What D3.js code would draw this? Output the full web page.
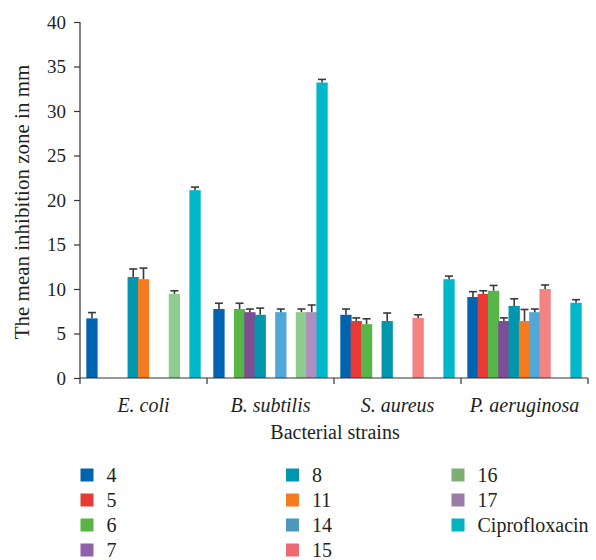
<!DOCTYPE html>
<html>
<head>
<meta charset="utf-8">
<script src="https://cdn.jsdelivr.net/npm/d3@7"></script>
<style>
  body { margin: 0; background: #fff; }
</style>
</head>
<body>
<svg id="svg1" width="596" height="560"></svg>
<script>
const strains = ["E. coli", "B. subtilis", "S. aureus", "P. aeruginosa"];
const compounds = ["4", "5", "6", "7", "8", "11", "14", "15", "16", "17", "Ciprofloxacin"];
const yTicks = [0, 5, 10, 15, 20, 25, 30, 35, 40];

// mean zone per compound, one entry per strain (null = not active)
const means = {
  "4":  [6.7, 7.75, 7.1, 9.1],
  "5":  [null, null, 6.4, 9.45],
  "6":  [null, 7.75, 6.05, 9.8],
  "7":  [null, 7.4, null, 6.4],
  "8":  [11.35, 7.1, 6.4, 8.1],
  "11": [11.1, null, null, 6.4],
  "14": [null, 7.4, null, 7.4],
  "15": [null, null, 6.75, 10.0],
  "16": [9.45, 7.4, null, null],
  "17": [null, 7.4, null, null],
  "Ciprofloxacin": [21.1, 33.2, 11.1, 8.45]
};
const errs = {
  "4":  [0.65, 0.65, 0.65, 0.6],
  "5":  [null, null, 0.35, 0.35],
  "6":  [null, 0.65, 0.6, 0.6],
  "7":  [null, 0.35, null, 0.35],
  "8":  [0.9, 0.75, 0.9, 0.8],
  "11": [1.25, null, null, 1.3],
  "14": [null, 0.35, null, 0.35],
  "15": [null, null, 0.35, 0.45],
  "16": [0.35, 0.35, null, null],
  "17": [null, 0.8, null, null],
  "Ciprofloxacin": [0.35, 0.35, 0.35, 0.35]
};

const barColors = ["#0064b0", "#e93a35", "#58b547", "#7e4e94", "#0096ae", "#f47b20",
                   "#4fa8d8", "#f38380", "#8fcc8f", "#ae8ec0", "#00b8c9"];
const legendColors = ["#0063ad", "#e63a36", "#58b446", "#8f62a8", "#0096ae", "#f47c20",
                      "#4c98bd", "#ea6c72", "#7eae72", "#9b7ca6", "#00b3bf"];

const FONT = 'Liberation Serif';
const INK = '#231f20';

// every text gets its own font settings
function serif(sel, size) {
  return sel.attr('font-family', FONT).style('font-family', FONT)
    .attr('font-size', size).style('font-size', size + 'px').attr('fill', INK);
}

const svg = d3.select('#svg1');
const mLeft = 80, mRight = 588, mTop = 22, mBottom = 378;

const x0 = d3.scaleBand().domain(strains).range([mLeft, mRight]);
const x1 = d3.scaleBand().domain(compounds).range([0, x0.bandwidth()]).paddingOuter(0.66);
const y = d3.scaleLinear().domain([0, 40]).range([mBottom, mTop]);

const rows = [];
strains.forEach((s, i) => {
  compounds.forEach((c, j) => {
    if (means[c][i] != null) rows.push({strain: s, comp: c, idx: j, v: means[c][i], e: errs[c][i]});
  });
});

const bw = x1.step() + 1;

// bars
svg.append('g').selectAll('rect')
  .data(rows)
  .enter()
  .append('rect')
  .attr('x', d => x0(d.strain) + x1(d.comp) - 0.5)
  .attr('y', d => y(d.v))
  .attr('width', bw)
  .attr('height', d => y(0) - y(d.v))
  .attr('fill', d => barColors[d.idx]);

// error bars
const eb = svg.append('g').attr('stroke', '#3a3a3a').attr('stroke-width', 1.6);
rows.forEach(d => {
  const cx = x0(d.strain) + x1(d.comp) - 0.5 + bw / 2;
  eb.append('line').attr('x1', cx).attr('x2', cx).attr('y1', y(d.v)).attr('y2', y(d.v + d.e));
  eb.append('line').attr('x1', cx - 4).attr('x2', cx + 4).attr('y1', y(d.v + d.e)).attr('y2', y(d.v + d.e));
});

// y axis
const yAxis = d3.axisLeft(y).tickValues(yTicks).tickSize(6).tickPadding(8);
const gy = svg.append('g').attr('transform', `translate(${mLeft},0)`).call(yAxis);
gy.attr('font-family', FONT).attr('font-size', 19);
gy.select('.domain').attr('stroke', '#333').attr('stroke-width', 1.2).attr('d', `M0,${mTop}V${mBottom}`);
gy.selectAll('.tick line').attr('stroke', '#333').attr('stroke-width', 1.2);
serif(gy.selectAll('.tick text'), 19);

// x axis
const gx = svg.append('g').attr('transform', `translate(0,${mBottom})`);
gx.append('line').attr('x1', mLeft).attr('x2', mRight).attr('stroke', '#333').attr('stroke-width', 1.2);
const bounds = strains.map(s => x0(s)).concat([mRight]);
gx.selectAll('.tk').data(bounds).enter().append('line')
  .attr('x1', d => d).attr('x2', d => d).attr('y1', 0).attr('y2', 6)
  .attr('stroke', '#333').attr('stroke-width', 1.2);
serif(gx.selectAll('.lbl').data(strains).enter().append('text'), 20)
  .attr('x', d => x0(d) + x0.bandwidth() / 2)
  .attr('y', 33.5)
  .attr('text-anchor', 'middle')
  .attr('font-style', 'italic')
  .style('font-style', 'italic')
  .text(d => d);

serif(svg.append('text'), 20)
  .attr('x', 335).attr('y', 439)
  .attr('text-anchor', 'middle')
  .text('Bacterial strains');

serif(svg.append('text'), 21)
  .attr('transform', `translate(29,${(mTop + mBottom) / 2 + 2}) rotate(-90)`)
  .attr('text-anchor', 'middle')
  .text('The mean inhibition zone in mm');

// legend
const colX = [80.5, 286, 451.5];
const leg = svg.append('g');
compounds.forEach((c, j) => {
  const col = j < 4 ? 0 : (j < 8 ? 1 : 2);
  const row = j < 4 ? j : (j < 8 ? j - 4 : j - 8);
  const ly = 475 + row * 25;
  leg.append('rect').attr('x', colX[col]).attr('y', ly - 6.5).attr('width', 13).attr('height', 13)
    .attr('fill', legendColors[j]);
  serif(leg.append('text'), 20).attr('x', colX[col] + 26).attr('y', ly + 6.5).text(c);
});
</script>
</body>
</html>
